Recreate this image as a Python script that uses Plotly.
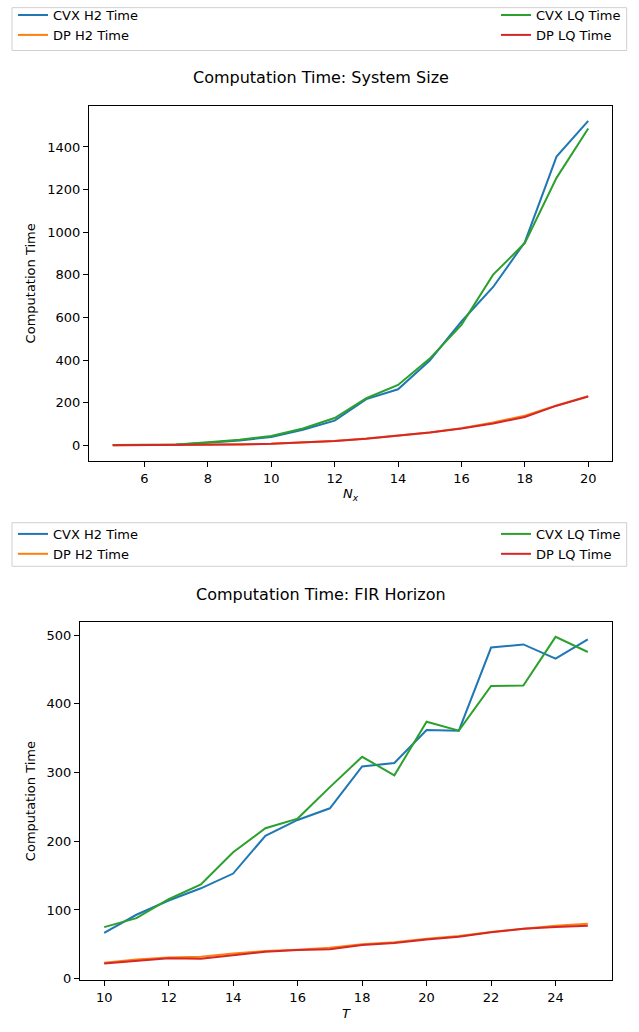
import plotly.graph_objects as go

W, H = 639, 1032

# ---- Data: system size ----
nx = list(range(5, 21))
cvx_h2_nx = [1, 1, 3, 12, 23, 39, 73, 116, 217, 263, 398, 581, 743, 953, 1355, 1522]
dp_h2_nx = [0.5, 1, 1.5, 2.5, 4.5, 7.5, 12.5, 20.5, 31.5, 44.5, 60.5, 80, 107, 139, 187, 231]
cvx_lq_nx = [1, 2, 4, 14, 26, 44, 79, 128, 221, 283, 407, 565, 801, 949, 1255, 1487]
dp_lq_nx = [0, 0.5, 1, 2, 4, 7, 12, 20, 31, 44, 60, 79, 102, 133, 186, 229]

# ---- Data: FIR horizon ----
T = list(range(10, 26))
cvx_h2_T = [66.7, 93, 113.7, 131.5, 153, 208, 231, 248, 309, 314, 362, 361, 482, 486.6, 466, 494]
dp_h2_T = [23, 27.8, 30.7, 31.7, 36.5, 40.3, 42.2, 45, 50, 52.8, 58, 62, 68, 73, 77, 80]
cvx_lq_T = [75, 88, 115.6, 137, 184, 219, 233, 278.8, 323, 296, 374, 361, 426, 426.6, 497.6, 475.5]
dp_lq_T = [22, 26, 29.8, 28.8, 34.5, 39.3, 41.7, 42.7, 49, 51.8, 57, 61, 67.7, 72.5, 75.3, 77]

names = ["CVX H2 Time", "DP H2 Time", "CVX LQ Time", "DP LQ Time"]
colors = ["#1f77b4", "#ff7f0e", "#2ca02c", "#d62728"]

FONT = "DejaVu Sans"

def px_x(p):
    return p / W

def px_y(p):
    return 1 - p / H

fig = go.Figure()

top_series = [cvx_h2_nx, dp_h2_nx, cvx_lq_nx, dp_lq_nx]
bot_series = [cvx_h2_T, dp_h2_T, cvx_lq_T, dp_lq_T]
top_legends = ["legend", "legend", "legend2", "legend2"]
bot_legends = ["legend3", "legend3", "legend4", "legend4"]

for i in range(4):
    fig.add_trace(go.Scatter(x=nx, y=top_series[i], mode="lines", name=names[i],
                             line=dict(color=colors[i], width=2),
                             xaxis="x", yaxis="y", legend=top_legends[i]))
for i in range(4):
    fig.add_trace(go.Scatter(x=T, y=bot_series[i], mode="lines", name=names[i],
                             line=dict(color=colors[i], width=2),
                             xaxis="x2", yaxis="y2", legend=bot_legends[i]))

axis_common = dict(showline=True, linecolor="black", linewidth=1, mirror=True,
                   ticks="outside", ticklen=5, tickwidth=1, tickcolor="black",
                   showgrid=False, zeroline=False,
                   tickfont=dict(family=FONT, size=13, color="black"))

fig.update_layout(
    width=W, height=H,
    margin=dict(l=0, r=0, t=0, b=0),
    paper_bgcolor="white", plot_bgcolor="white",
    font=dict(family=FONT, size=13, color="black"),
    xaxis=dict(domain=[px_x(89), px_x(612)], range=[4.25, 20.75], anchor="y",
               tickmode="array", tickvals=[6, 8, 10, 12, 14, 16, 18, 20],
               title=dict(text="<i>N</i><sub><i>x</i></sub>", standoff=4,
                          font=dict(family=FONT, size=13)),
               **axis_common),
    yaxis=dict(domain=[px_y(461), px_y(101.7)], range=[-74, 1594], anchor="x",
               tickmode="array", tickvals=[0, 200, 400, 600, 800, 1000, 1200, 1400],
               title=dict(text="Computation Time", standoff=8,
                          font=dict(family=FONT, size=13)),
               **axis_common),
    xaxis2=dict(domain=[px_x(80), px_x(612)], range=[9.25, 25.75], anchor="y2",
                tickmode="array", tickvals=[10, 12, 14, 16, 18, 20, 22, 24],
                title=dict(text="<i>T</i>", standoff=4,
                           font=dict(family=FONT, size=13)),
                **axis_common),
    yaxis2=dict(domain=[px_y(986), px_y(623.3)], range=[-2.7, 519.7], anchor="x2",
                tickmode="array", tickvals=[0, 100, 200, 300, 400, 500],
                title=dict(text="Computation Time", standoff=8,
                           font=dict(family=FONT, size=13)),
                **axis_common),
)

leg_common = dict(bgcolor="rgba(0,0,0,0)", borderwidth=0,
                  font=dict(family=FONT, size=13, color="black"),
                  tracegroupgap=0, itemwidth=30)

fig.update_layout(
    legend=dict(x=px_x(13), y=px_y(-5), xanchor="left", yanchor="top", **leg_common),
    legend2=dict(x=px_x(626), y=px_y(-5), xanchor="right", yanchor="top", **leg_common),
    legend3=dict(x=px_x(13), y=px_y(519.5), xanchor="left", yanchor="top", **leg_common),
    legend4=dict(x=px_x(626), y=px_y(519.5), xanchor="right", yanchor="top", **leg_common),
)

# legend frames
for (y0, y1) in [(2.7, 46), (523.3, 567.3)]:
    fig.add_shape(type="rect", xref="paper", yref="paper",
                  x0=px_x(12), x1=px_x(626.7), y0=px_y(y1), y1=px_y(y0),
                  line=dict(color="#d0d0d0", width=1), fillcolor="rgba(255,255,255,0.8)",
                  layer="below")

# titles
fig.add_annotation(text="Computation Time: System Size", xref="paper", yref="paper",
                   x=px_x(320.5), y=px_y(73.5), xanchor="center", yanchor="middle",
                   showarrow=False, font=dict(family=FONT, size=16, color="black"))
fig.add_annotation(text="Computation Time: FIR Horizon", xref="paper", yref="paper",
                   x=px_x(320.5), y=px_y(596), xanchor="center", yanchor="middle",
                   showarrow=False, font=dict(family=FONT, size=16, color="black"))

fig.write_html("out.html",
               config={"displayModeBar": False},
               post_script="document.body.style.margin='0';document.body.style.padding='0';")
